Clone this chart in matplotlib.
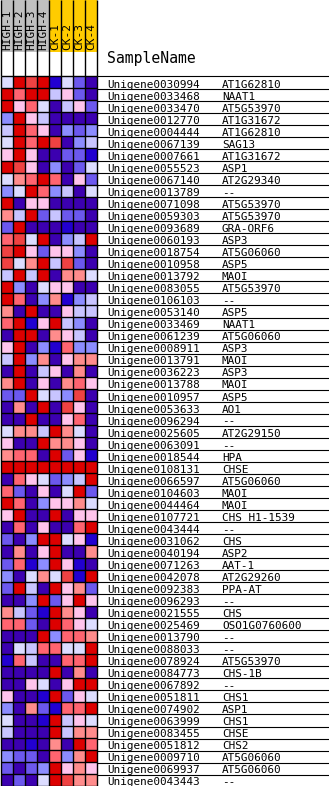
import numpy as np
import matplotlib
matplotlib.use("Agg")
import matplotlib.pyplot as plt
from matplotlib.colors import ListedColormap

samples = ["HIGH-1", "HIGH-2", "HIGH-3", "HIGH-4", "CK-1", "CK-2", "CK-3", "CK-4"]
groups = ["HIGH", "HIGH", "HIGH", "HIGH", "CK", "CK", "CK", "CK"]

genes = ["Unigene0030994", "Unigene0033468", "Unigene0033470", "Unigene0012770",
         "Unigene0004444", "Unigene0067139", "Unigene0007661", "Unigene0055523",
         "Unigene0067140", "Unigene0013789", "Unigene0071098", "Unigene0059303",
         "Unigene0093689", "Unigene0060193", "Unigene0018754", "Unigene0010958",
         "Unigene0013792", "Unigene0083055", "Unigene0106103", "Unigene0053140",
         "Unigene0033469", "Unigene0061239", "Unigene0008911", "Unigene0013791",
         "Unigene0036223", "Unigene0013788", "Unigene0010957", "Unigene0053633",
         "Unigene0096294", "Unigene0025605", "Unigene0063091", "Unigene0018544",
         "Unigene0108131", "Unigene0066597", "Unigene0104603", "Unigene0044464",
         "Unigene0107721", "Unigene0043444", "Unigene0031062", "Unigene0040194",
         "Unigene0071263", "Unigene0042078", "Unigene0092383", "Unigene0096293",
         "Unigene0021555", "Unigene0025469", "Unigene0013790", "Unigene0088033",
         "Unigene0078924", "Unigene0084773", "Unigene0067892", "Unigene0051811",
         "Unigene0074902", "Unigene0063999", "Unigene0083455", "Unigene0051812",
         "Unigene0009710", "Unigene0069937", "Unigene0043443"]

names = ["AT1G62810", "NAAT1", "AT5G53970", "AT1G31672", "AT1G62810", "SAG13",
         "AT1G31672", "ASP1", "AT2G29340", "--", "AT5G53970", "AT5G53970",
         "GRA-ORF6", "ASP3", "AT5G06060", "ASP5", "MAOI", "AT5G53970", "--",
         "ASP5", "NAAT1", "AT5G06060", "ASP3", "MAOI", "ASP3", "MAOI", "ASP5",
         "AO1", "--", "AT2G29150", "--", "HPA", "CHSE", "AT5G06060", "MAOI",
         "MAOI", "CHS H1-1539", "--", "CHS", "ASP2", "AAT-1", "AT2G29260",
         "PPA-AT", "--", "CHS", "OSO1G0760600", "--", "--", "AT5G53970",
         "CHS-1B", "--", "CHS1", "ASP1", "CHS1", "CHSE", "CHS2", "AT5G06060",
         "AT5G06060", "--"]

# colour level per cell (-6 .. -1 blue side, 1 .. 5 red side)
values = [
    [-1, 5, 4, 5, -6, -1, -4, -5],
    [5, 3, 5, 5, -2, 1, -4, -5],
    [5, 1, 3, -1, -5, -2, 1, -4],
    [-3, 5, 1, -2, -5, -5, -5, -5],
    [-2, 5, 3, 1, -5, -3, -4, -3],
    [-1, 5, 3, 5, 4, -5, -3, -2],
    [1, 5, 1, -5, -5, -4, -4, -6],
    [5, 4, 1, -5, -3, -5, -4, -1],
    [-1, 2, 3, 5, 3, -5, 1, -4],
    [-3, -1, 5, 3, -3, -2, -5, -1],
    [5, -5, 1, 1, -5, -5, -5, -5],
    [2, -2, 5, -4, -2, -4, -4, -5],
    [-4, 5, -5, -5, -5, -6, -5, -5],
    [3, 4, -1, 5, -5, -3, -2, 5],
    [4, 5, 1, -4, 1, 1, -3, -5],
    [4, -1, 2, 5, -2, 4, -4, -5],
    [-2, 5, -2, 5, -5, 2, 2, -1],
    [5, -3, -5, -1, 1, 1, -5, -5],
    [5, 3, -5, -3, 2, -6, -3, -2],
    [2, -5, 5, -5, -5, 1, -2, -2],
    [3, 5, -6, 1, 5, -2, -3, -5],
    [-5, 5, 5, -5, 2, 1, -2, -5],
    [1, 5, -5, -3, -6, 3, -3, -3],
    [-2, 5, -3, 2, -5, 1, 2, 2],
    [-5, 5, -5, -2, 1, -5, 2, -5],
    [2, 5, -5, 1, -5, 2, 3, 1],
    [-4, -4, 5, -1, -2, -3, 4, -5],
    [-5, 2, -5, 5, -5, 4, 1, -5],
    [-5, -5, 5, -5, -5, 1, 3, -5],
    [-1, 2, 2, -2, 5, 2, -1, -5],
    [1, -5, -5, 5, 2, 2, 1, -5],
    [2, 3, 3, -5, 5, -4, 1, -6],
    [5, 5, 5, 5, 5, 5, 5, 5],
    [-5, 3, 1, -1, -4, -3, -2, 5],
    [3, -4, -5, 1, -5, -1, 5, -4],
    [5, 3, -5, -3, 1, 1, 2, -1],
    [1, 5, -5, -5, 5, -5, 1, 1],
    [-5, 3, -5, 1, -5, -5, 3, 5],
    [-4, -5, -3, 5, 5, -1, 1, -6],
    [-5, 2, -5, 1, 5, -5, -5, 2],
    [-4, 3, -6, -3, 5, 1, -6, -5],
    [-3, -5, -1, 2, -1, 4, -6, 5],
    [-4, 5, -2, -5, 5, 1, 2, -4],
    [-5, -5, -3, 5, -4, 1, 5, 1],
    [2, -2, -4, -6, 5, 2, 1, -5],
    [3, 3, -4, -5, 5, 3, 1, -1],
    [-5, -5, -5, 5, -3, 3, 3, 2],
    [-5, -1, -2, 3, 3, -1, -1, 5],
    [-6, 3, -2, -5, -5, 3, 3, 5],
    [-5, -5, -5, -5, 5, -5, 2, -5],
    [-5, -5, 1, -1, -5, 1, 5, 5],
    [1, -5, -5, -6, 5, -4, 1, -1],
    [-3, -5, 2, -4, -6, 3, 3, 5],
    [-1, -5, -5, -6, 5, -2, 1, -1],
    [-2, -5, -5, -5, 5, -2, 2, 2],
    [-5, -5, -6, -5, 2, -5, 5, 3],
    [-3, -4, -4, -5, 3, -3, 2, 5],
    [-4, -5, -4, -3, 5, 1, 2, 1],
    [-5, -4, -5, -1, 5, 4, 2, 2],
]

levels = [-6, -5, -4, -3, -2, -1, 1, 2, 3, 4, 5]
level_colors = ["#2200d0", "#3c00b0", "#6c58ee", "#8c8cff", "#c8c4ff", "#dcdcff",
                "#ffc4ec", "#ff8c8c", "#ff6470", "#ef4242", "#dd0000"]
group_colors = {"HIGH": "#c0c0c0", "CK": "#ffcc00"}

W, H = 329, 786
fig = plt.figure(figsize=(W / 100, H / 100), dpi=100)
ax = fig.add_axes([0, 0, 1, 1])
ax.set_xlim(0, W)
ax.set_ylim(H, 0)
ax.axis("off")

nrow, ncol = len(genes), len(samples)
x0, cw = 0.5, 12.03
y0, rh = 76.3, 12.03
xe = x0 + np.arange(ncol + 1) * cw
ye = y0 + np.arange(nrow + 1) * rh

idx = np.searchsorted(levels, np.array(values))
ax.pcolormesh(xe, ye, idx, cmap=ListedColormap(level_colors), vmin=-0.5,
              vmax=len(levels) - 0.5)
# cell borders
ax.hlines(ye, xe[0], xe[-1], color="black", lw=1.0)
ax.vlines(xe, y0, H, color="black", lw=1.0)

# header
xc = (xe[:-1] + xe[1:]) / 2
ax.bar(xc, 52, width=cw, bottom=0, color=[group_colors[g] for g in groups],
       edgecolor="none")
ax.vlines(xe, 0, y0, color="black", lw=1.0)
for x, s in zip(xc, samples):
    ax.text(x + 0.5, 50.5, s, rotation=90, ha="center", va="bottom",
            family="DejaVu Sans Mono", fontsize=8, color="black")
ax.text(107, 59, "SampleName", ha="left", va="center",
        family="DejaVu Sans Mono", fontsize=10.6)

# row labels
ax.hlines(y0, xe[-1], W, color="black", lw=0.8)
for i, (g, n) in enumerate(zip(genes, names)):
    yb = ye[i + 1]
    ax.text(107, yb - 0.6, g, ha="left", va="baseline",
            family="DejaVu Sans Mono", fontsize=7.9)
    ax.text(222, yb - 0.6, n, ha="left", va="baseline",
            family="DejaVu Sans Mono", fontsize=7.9)
    ax.hlines(yb + 0.6, xe[-1], W, color="black", lw=0.8)

fig.savefig("out.png", dpi=100)
